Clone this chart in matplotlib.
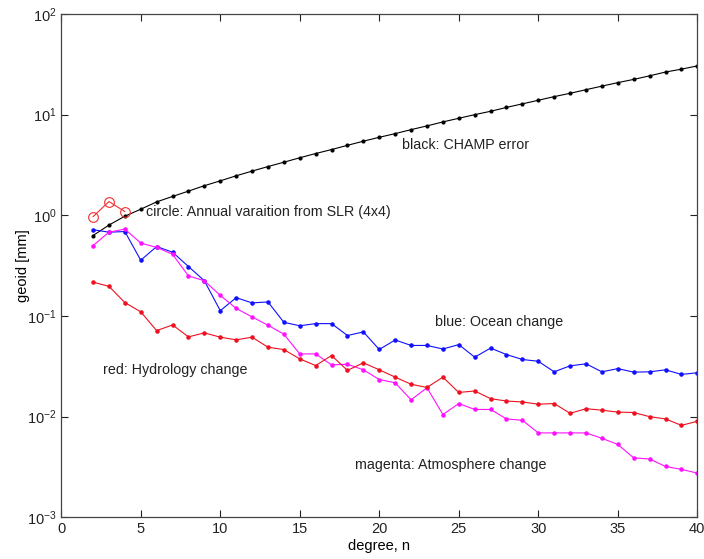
import numpy as np
import matplotlib
matplotlib.use('Agg')
import matplotlib.pyplot as plt
from matplotlib.ticker import LogLocator, NullLocator, FixedLocator

plt.rcParams['font.family'] = ['Liberation Sans', 'DejaVu Sans']

# spherical harmonic degree
degree = np.arange(2, 41)

# CHAMP error (black)
champ = [0.63, 0.80, 0.98, 1.15, 1.36, 1.54, 1.74, 1.97, 2.2, 2.47, 2.75, 3.05,
         3.37, 3.73, 4.11, 4.5, 4.96, 5.45, 5.96, 6.48, 7.1, 7.73, 8.47, 9.2, 10.0,
         10.8, 11.8, 12.8, 13.9, 15.1, 16.3, 17.7, 19.2, 20.8, 22.4, 24.3, 26.5,
         28.3, 30.5]

# ocean change (blue)
ocean = [0.72, 0.68, 0.69, 0.358, 0.49, 0.43, 0.31, 0.224, 0.113, 0.152, 0.135,
         0.138, 0.0865, 0.080, 0.084, 0.084, 0.064, 0.0695, 0.0465, 0.0578, 0.051,
         0.051, 0.047, 0.052, 0.039, 0.048, 0.0414, 0.037, 0.0355, 0.0279, 0.032,
         0.0335, 0.0279, 0.030, 0.0277, 0.0279, 0.0292, 0.0263, 0.0273]

# atmosphere change (magenta)
atmos = [0.50, 0.68, 0.73, 0.53, 0.48, 0.41, 0.25, 0.224, 0.16, 0.119, 0.098,
         0.081, 0.066, 0.042, 0.042, 0.0327, 0.0332, 0.0292, 0.0234, 0.0217,
         0.0147, 0.0194, 0.0105, 0.0135, 0.0118, 0.0118, 0.0095, 0.0092, 0.0069,
         0.0069, 0.0069, 0.0069, 0.0061, 0.0053, 0.0039, 0.0038, 0.0032, 0.0030,
         0.00275]

# hydrology change (red)
hydro = [0.217, 0.197, 0.136, 0.11, 0.0716, 0.0815, 0.062, 0.068, 0.0616, 0.058,
         0.0616, 0.049, 0.0464, 0.0375, 0.0322, 0.0405, 0.0288, 0.0343, 0.0292,
         0.0247, 0.021, 0.0195, 0.0247, 0.0174, 0.018, 0.0151, 0.0143, 0.014,
         0.0133, 0.0135, 0.0108, 0.012, 0.0116, 0.0111, 0.011, 0.010, 0.0095,
         0.0082, 0.009]

# annual variation from SLR (red circles)
slr_degree = [2, 3, 4]
slr = [0.97, 1.37, 1.09]

fig = plt.figure(figsize=(7.04, 5.59), dpi=100)
ax = fig.add_axes([0.087, 0.0745, 0.9035, 0.9005])

ax.semilogy(degree, champ, '-', color='black', lw=0.8, marker='.', ms=4)
ax.semilogy(slr_degree, slr, '-', color='#f03030', lw=0.8, marker='o', ms=7,
            mfc='none', mew=0.8)
ax.semilogy(degree, ocean, '-', color='#1010ff', lw=0.8, marker='.', ms=4.5)
ax.semilogy(degree, atmos, '-', color='#ff10ff', lw=0.8, marker='.', ms=4.5)
ax.semilogy(degree, hydro, '-', color='#ee1020', lw=0.8, marker='.', ms=4.5)

ax.set_xlim(0, 40)
ax.set_ylim(1e-3, 1e2)
ax.xaxis.set_major_locator(FixedLocator(np.arange(0, 41, 5)))
ax.yaxis.set_major_locator(LogLocator(base=10, numticks=10))
ax.yaxis.set_minor_locator(NullLocator())
ax.tick_params(direction='in', top=True, right=True, length=5, width=0.8,
               labelsize=10.5, colors='#222222')
for s in ax.spines.values():
    s.set_color('#444444')
    s.set_linewidth(0.9)

ax.set_xlabel('degree, n', fontsize=10.5, labelpad=2)
ax.set_ylabel('geoid [mm]', fontsize=10.5, labelpad=-2)

tkw = dict(fontsize=10.3, color='#222222', va='center')
ax.text(21.4, 5.0, 'black: CHAMP error', **tkw)
ax.text(5.3, 1.08, 'circle: Annual varaition from SLR (4x4)', **tkw)
ax.text(23.5, 0.088, 'blue: Ocean change', **tkw)
ax.text(2.6, 0.029, 'red: Hydrology change', **tkw)
ax.text(18.5, 0.0033, 'magenta: Atmosphere change', **tkw)

fig.savefig('out.png', dpi=100)
